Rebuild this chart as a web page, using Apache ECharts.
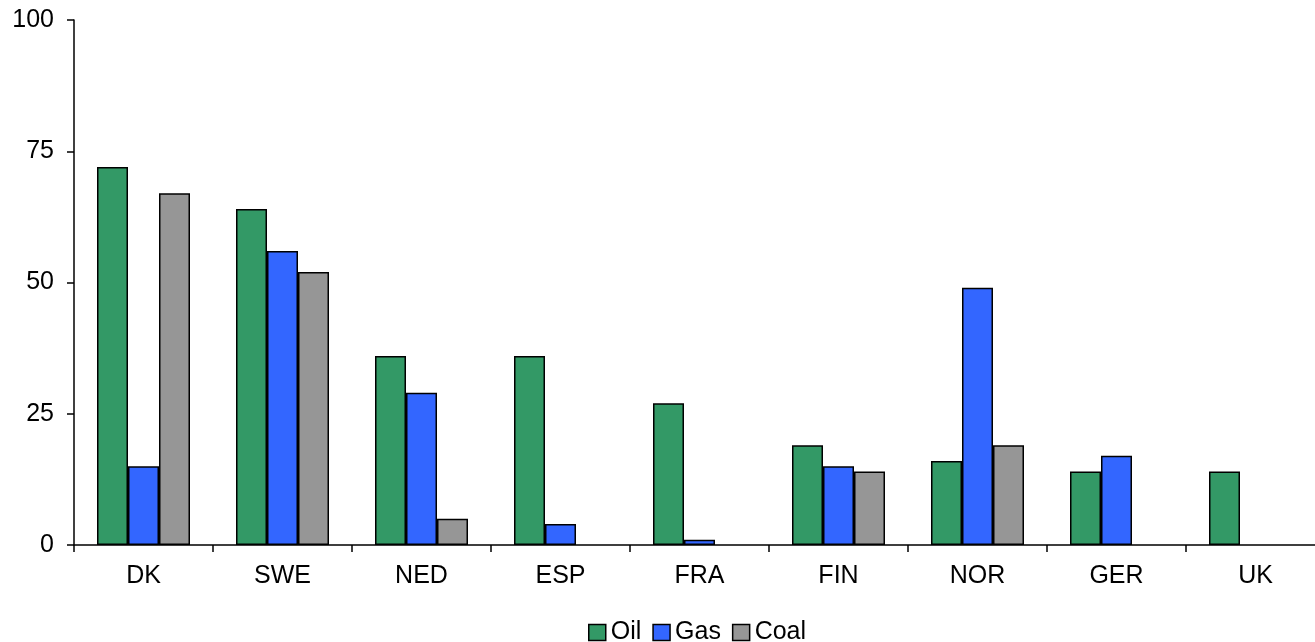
<!DOCTYPE html>
<html>
<head>
<meta charset="utf-8">
<script src="https://cdn.jsdelivr.net/npm/echarts@6/dist/echarts.min.js"></script>
<style>
  html, body { margin: 0; padding: 0; background: #ffffff; }
  #chart { width: 1315px; height: 642px; }
</style>
</head>
<body>
<div id="chart"></div>
<script>
// Countries along the category axis
const categories = ['DK', 'SWE', 'NED', 'ESP', 'FRA', 'FIN', 'NOR', 'GER', 'UK'];

// Shares per fuel (null = no bar)
const oilValues  = [72, 64, 36, 36, 27, 19, 16, 14, 14];
const gasValues  = [15, 56, 29, 4, 1, 15, 49, 17, null];
const coalValues = [67, 52, 5, null, null, 14, 19, null, null];

const seriesNames = ['Oil', 'Gas', 'Coal'];
const seriesColors = ['#339966', '#3366FF', '#969696'];

// Value axis ticks
const yMin = 0, yMax = 100, yStep = 25;

const font = 'Liberation Sans, Arial, sans-serif';
const chart = echarts.init(document.getElementById('chart'), null, { renderer: 'canvas' });

const barSeries = [oilValues, gasValues, coalValues].map((vals, i) => ({
  name: seriesNames[i],
  type: 'bar',
  data: vals,
  barWidth: 31,
  barGap: '0%',
  itemStyle: { color: seriesColors[i], borderColor: '#000000', borderWidth: 1.5 },
  emphasis: { disabled: true }
}));

chart.setOption({
  animation: false,
  backgroundColor: '#ffffff',
  textStyle: { fontFamily: font },
  // plot area runs slightly past the right edge of the canvas
  grid: { left: 74, top: 20, width: 1251, height: 525, containLabel: false, outerBoundsMode: 'none' },
  legend: {
    data: seriesNames,
    left: 588,
    top: 620,
    itemWidth: 17,
    itemHeight: 16,
    itemGap: 11,
    icon: 'rect',
    padding: 0,
    textStyle: { fontSize: 25, color: '#000000', fontFamily: font },
    itemStyle: { borderColor: '#000000', borderWidth: 1.5 }
  },
  xAxis: {
    type: 'category',
    data: categories,
    axisLine: { lineStyle: { color: '#000000', width: 1.5 } },
    axisTick: { show: true, interval: 0, length: 7, alignWithLabel: false, lineStyle: { color: '#000000', width: 1.5 } },
    axisLabel: { fontSize: 25, color: '#000000', margin: 19, fontFamily: font },
    splitLine: { show: false }
  },
  yAxis: {
    type: 'value',
    min: yMin,
    max: yMax,
    interval: yStep,
    axisLine: { show: true, lineStyle: { color: '#000000', width: 1.5 } },
    axisTick: { show: true, length: 7, lineStyle: { color: '#000000', width: 1.5 } },
    axisLabel: { fontSize: 25, color: '#000000', margin: 20, fontFamily: font },
    splitLine: { show: false }
  },
  series: barSeries
});
</script>
</body>
</html>
